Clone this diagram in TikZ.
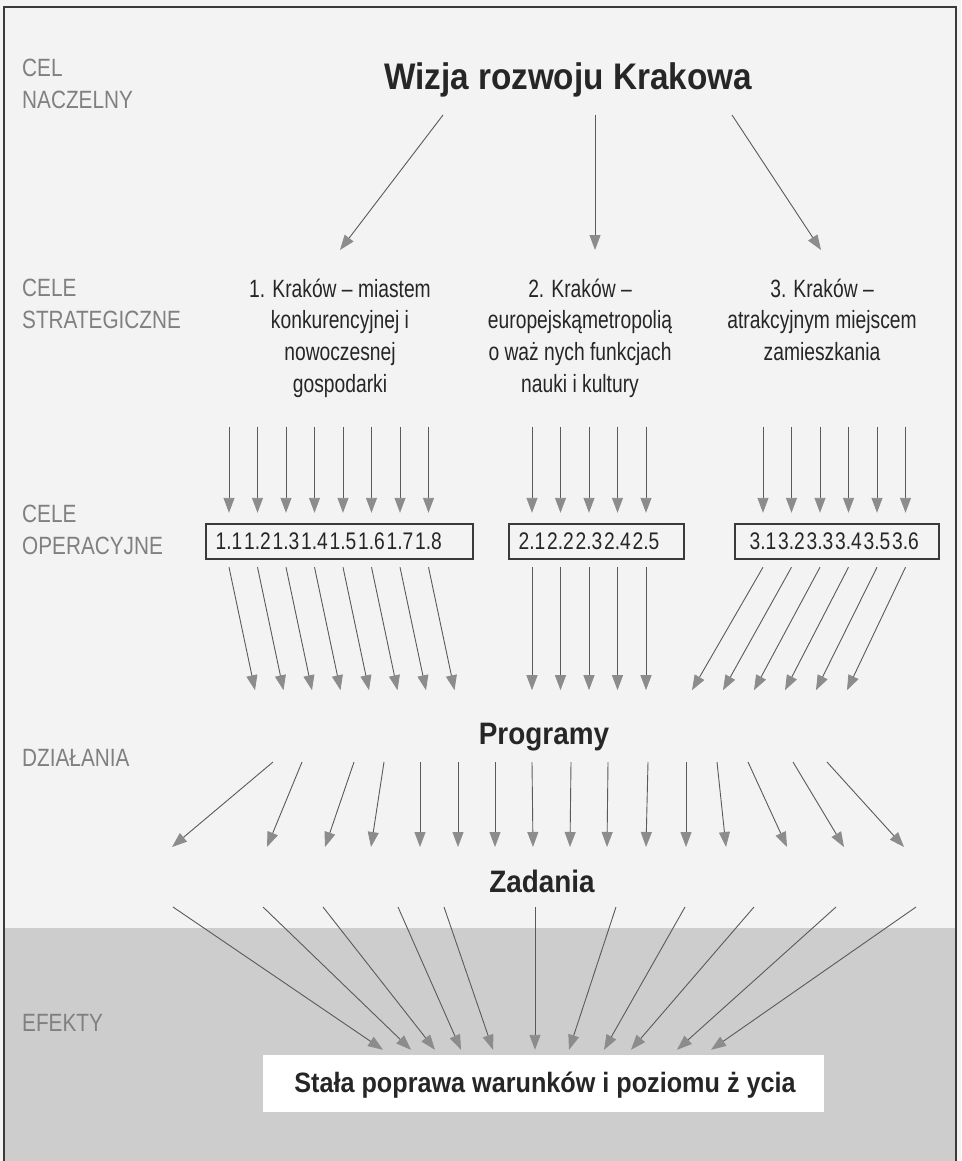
\documentclass[tikz,border=0pt]{standalone}
\usepackage{fontspec}
\setmainfont{Liberation Sans}
\newfontfamily\lblfont[FakeStretch=0.83]{Liberation Sans}
\newfontfamily\goalfont[FakeStretch=0.77]{Liberation Sans}
\newfontfamily\numfont[FakeStretch=0.80]{Liberation Sans}
\newfontfamily\headfont[FakeStretch=0.90]{Liberation Sans}
\usepackage{xcolor}
\usepackage{tikz}
\usetikzlibrary{arrows.meta, positioning, calc}

\definecolor{paper}{HTML}{F3F3F3}
\definecolor{band}{HTML}{CDCDCD}
\definecolor{framegray}{HTML}{3A3A3A}
\definecolor{lblgray}{HTML}{808080}
\definecolor{txtdark}{HTML}{262626}
\definecolor{linegray}{HTML}{5A5A5A}
\definecolor{headgray}{HTML}{8C8C8C}

\begin{document}
\begin{tikzpicture}[
    x=1pt, y=-1pt,
    arr/.style={-{Triangle[length=15pt,width=11pt,color=headgray]},draw=linegray,line width=0.9pt},
    lbl/.style={anchor=north west,align=left,inner sep=0pt,text=lblgray,font=\lblfont\fontsize{25}{32}\selectfont},
    goal/.style={anchor=north,align=center,inner sep=0pt,text=txtdark,font=\goalfont\fontsize{25}{31.7}\selectfont},
    head/.style={anchor=base,inner sep=0pt,text=txtdark,font=\headfont\bfseries\fontsize{31}{34}\selectfont},
    opbox/.style={draw=framegray,line width=1.2pt,minimum height=35pt,inner sep=0pt},
    opnum/.style={minimum height=35pt,inner sep=0pt,text=txtdark,font=\numfont\fontsize{24}{26}\selectfont}
]
\useasboundingbox (0,0) rectangle (961,1161);

%--------------------------------------------------------------------
% Page, shaded band and frame
%--------------------------------------------------------------------
\fill[paper] (0,0) rectangle (961,1161);
\fill[band] (4,928) rectangle (956,1161);
\draw[framegray,line width=1.5pt] (4,1161) -- (4,7) -- (956,7) -- (956,1161);

%--------------------------------------------------------------------
% Level names (left column)
%--------------------------------------------------------------------
\node[lbl] (lcel)   at (22,59)   {CEL\\NACZELNY};
\node[lbl] (lstrat) at (22,279)  {CELE\\STRATEGICZNE};
\node[lbl] (loper)  at (22,505)  {CELE\\OPERACYJNE};
\node[lbl] (ldzial) at (22,749)  {DZIAŁANIA};
\node[lbl] (lefekt) at (22,1014) {EFEKTY};

%--------------------------------------------------------------------
% Main goal and strategic goals
%--------------------------------------------------------------------
\node[head,font=\headfont\bfseries\fontsize{37}{40}\selectfont] (title) at (568,90) {Wizja rozwoju Krakowa};

\node[goal] (sg1) at (340,278.5) {1. Kraków – miastem\\konkurencyjnej i\\nowoczesnej\\gospodarki};
\node[goal] (sg2) at (580,278.5) {2. Kraków –\\europejskąmetropolią\\o waż nych funkcjach\\nauki i kultury};
\node[goal] (sg3) at (822,278.5) {3. Kraków –\\atrakcyjnym miejscem\\zamieszkania};

\draw[arr] ($(title.base)+(-125,25)$) -- ($(sg1.north)+(0,-28.5)$);
\draw[arr] ($(title.base)+(27,25)$)   -- ($(sg2.north)+(15,-28.5)$);
\draw[arr] ($(title.base)+(164,25)$)  -- ($(sg3.north)+(-1,-28.5)$);

%--------------------------------------------------------------------
% Operational goals
%--------------------------------------------------------------------
\node[opbox,minimum width=267pt] (box1) at (339.5,541.5) {};
\node[opbox,minimum width=175pt] (box2) at (596.5,541.5) {};
\node[opbox,minimum width=204pt] (box3) at (837,541.5)   {};

\foreach \i in {1,...,8}
  \node[opnum] (op1\i) at ({229+28.5*(\i-1)},541.5) {1.\i};
\foreach \i in {1,...,5}
  \node[opnum] (op2\i) at ({532+28.5*(\i-1)},541.5) {2.\i};
\foreach \i in {1,...,6}
  \node[opnum] (op3\i) at ({763+28.5*(\i-1)},541.5) {3.\i};

% arrows from the strategic goals
\foreach \g/\n in {1/8,2/5,3/6}
  \foreach \i in {1,...,\n}
    \draw[arr] ($(op\g\i.north)+(0,-97)$) -- ($(op\g\i.north)+(0,-11)$);

% arrows towards the programmes
\foreach \i in {1,...,8}
  \draw[arr] ($(op1\i.south)+(0,8)$) -- ++(26,123);
\foreach \i in {1,...,5}
  \draw[arr] ($(op2\i.south)+(0,8)$) -- ++(0,123);
\foreach \i in {1,...,6}
  \draw[arr] ($(op3\i.south)+(0,8)$) -- ++({-73.5+2.5*\i},123);

%--------------------------------------------------------------------
% Actions: programmes and tasks
%--------------------------------------------------------------------
\node[head] (prog) at (544,744) {Programy};
\node[head] (zad)  at (542,892) {Zadania};

\foreach \a/\b in {-271/-370,-242/-275,-190/-217,-160/-171,-124/-122,-86/-84,
                   -49/-47,-12/-9,27/28,64/65,104/104,142/144,173/184,204/245,
                   249/302,283/362}
  \draw[arr] ($(prog.base)+(\a,18)$) -- ($(zad.base)+(\b,-45)$);

%--------------------------------------------------------------------
% Effect
%--------------------------------------------------------------------
\node[fill=white,minimum width=561pt,minimum height=57pt,inner sep=0pt] (efbox) at (543.5,1083.5) {};
\node[head,font=\headfont\bfseries\fontsize{28}{31}\selectfont] (efekt) at (545,1092) {Stała poprawa warunków i poziomu ż ycia};

\foreach \a/\b in {-369/-160.5,-279/-132.5,-219/-108.5,-144/-82.5,-98/-50.5,
                   -7/-8.5,74/25.5,143/60.5,212/87.5,294/133.5,374/167.5}
  \draw[arr] ($(zad.base)+(\a,15)$) -- ($(efbox.north)+(\b,-5)$);

\end{tikzpicture}
\end{document}
